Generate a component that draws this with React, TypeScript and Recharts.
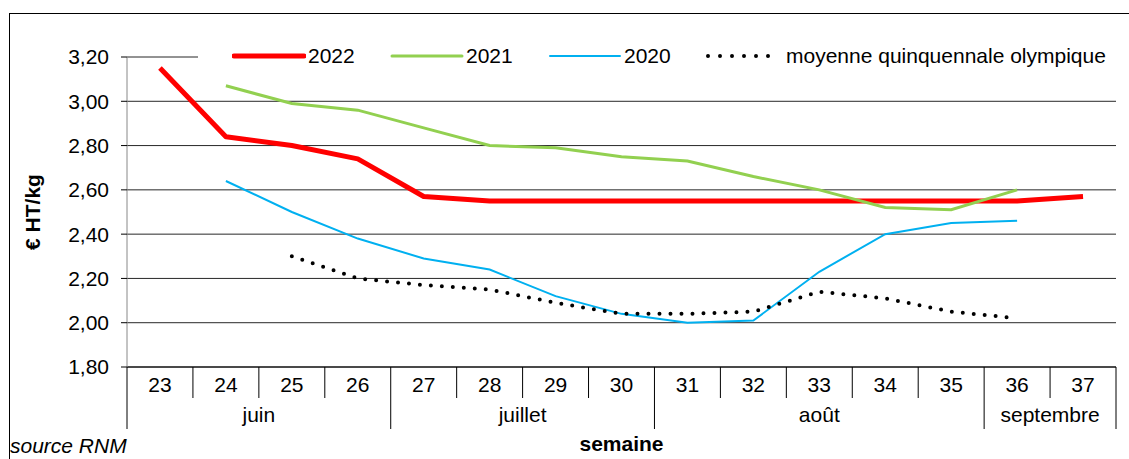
import React from 'react';
import { LineChart, Line, XAxis, YAxis, CartesianGrid, Legend } from 'recharts';

const weeks = ['23', '24', '25', '26', '27', '28', '29', '30', '31', '32', '33', '34', '35', '36', '37'];
const prix2022 = [3.15, 2.84, 2.80, 2.74, 2.57, 2.55, 2.55, 2.55, 2.55, 2.55, 2.55, 2.55, 2.55, 2.55, 2.57];
const prix2021 = [null, 3.07, 2.99, 2.96, 2.88, 2.80, 2.79, 2.75, 2.73, 2.66, 2.60, 2.52, 2.51, 2.60, null];
const prix2020 = [null, 2.64, 2.50, 2.38, 2.29, 2.24, 2.12, 2.04, 2.00, 2.01, 2.23, 2.40, 2.45, 2.46, null];
const moyenneOlympique = [null, null, 2.30, 2.20, 2.17, 2.15, 2.09, 2.04, 2.04, 2.05, 2.14, 2.11, 2.05, 2.02, null];

const months = ['juin', 'juillet', 'août', 'septembre'];
const monthWeeks = [4, 4, 5, 2];
const yTicks = [1.8, 2.0, 2.2, 2.4, 2.6, 2.8, 3.0, 3.2];

const data = weeks.map((w, i) => ({
  semaine: w,
  y2022: prix2022[i],
  y2021: prix2021[i],
  y2020: prix2020[i],
  moyenne: moyenneOlympique[i],
}));

const FONT = '"Liberation Sans", Arial, sans-serif';
const FS = 21;
const W = 1129;
const H = 459;
const PLOT_LEFT = 127;
const PLOT_RIGHT = 1116;
const BAND = (PLOT_RIGHT - PLOT_LEFT) / weeks.length;

// index of first week of each month
const monthStart: number[] = [];
monthWeeks.reduce((acc, n) => {
  monthStart.push(acc);
  return acc + n;
}, 0);

const WeekTick = (props: any) => {
  const { x, y, payload } = props;
  const i = weeks.indexOf(String(payload.value));
  const left = x - BAND / 2;
  const m = monthStart.indexOf(i);
  const isLast = i === weeks.length - 1;
  return (
    <g>
      <line x1={left} x2={left} y1={y} y2={m >= 0 ? y + 62 : y + 31} stroke="#000" />
      {isLast && <line x1={x + BAND / 2} x2={x + BAND / 2} y1={y} y2={y + 62} stroke="#000" />}
      <text x={x} y={y + 25} textAnchor="middle" fontSize={FS} fontFamily={FONT} fill="#000">
        {payload.value}
      </text>
      {m >= 0 && (
        <text
          x={left + (monthWeeks[m] * BAND) / 2}
          y={y + 55}
          textAnchor="middle"
          fontSize={FS}
          fontFamily={FONT}
          fill="#000"
        >
          {months[m]}
        </text>
      )}
    </g>
  );
};

const legendItems = [
  { label: '2022', color: '#FF0000', width: 5, dash: undefined },
  { label: '2021', color: '#92D050', width: 3, dash: undefined },
  { label: '2020', color: '#00B0F0', width: 2, dash: undefined },
  { label: 'moyenne quinquennale olympique', color: '#000', width: 4, dash: '0 12' },
];

const LegendContent = () => (
  <div style={{ display: 'flex', alignItems: 'center', height: '100%', paddingLeft: 34 }}>
    {legendItems.map((it, i) => (
      <div
        key={it.label}
        style={{ display: 'flex', alignItems: 'center', width: i < legendItems.length - 1 ? 158 : undefined }}
      >
        <svg width={74} height={20}>
          <line
            x1={2}
            x2={it.dash ? 74 : 72}
            y1={10}
            y2={10}
            stroke={it.color}
            strokeWidth={it.width}
            strokeLinecap="round"
            strokeDasharray={it.dash}
          />
        </svg>
        <span style={{ fontFamily: FONT, fontSize: FS, color: '#000', marginLeft: it.dash ? 6 : 2 }}>{it.label}</span>
      </div>
    ))}
  </div>
);

export default function App() {
  return (
    <div style={{ position: 'absolute', left: 0, top: 0, width: W, height: H, background: '#fff', overflow: 'hidden' }}>
      <div style={{ position: 'absolute', left: 9, top: 13, width: W, height: H, borderLeft: '1px solid #000', borderTop: '1px solid #000' }} />
      <LineChart width={W} height={H} data={data} margin={{ top: 57, right: W - PLOT_RIGHT, bottom: 26, left: 17 }}>
        <CartesianGrid vertical={false} stroke="#000" strokeOpacity={0.85} />
        <XAxis
          dataKey="semaine"
          height={66}
          interval={0}
          tickSize={0}
          tickMargin={0}
          padding={{ left: BAND / 2, right: BAND / 2 }}
          tick={<WeekTick />}
          axisLine={{ stroke: '#000' }}
          label={{
            content: (p: any) => (
              <text
                x={PLOT_LEFT + (PLOT_RIGHT - PLOT_LEFT) / 2}
                y={p.viewBox.y + 84}
                textAnchor="middle"
                fontSize={FS}
                fontWeight="bold"
                fontFamily={FONT}
                fill="#000"
              >
                semaine
              </text>
            ),
          }}
        />
        <YAxis
          width={110}
          domain={[1.8, 3.2]}
          ticks={yTicks}
          tickSize={6}
          tickMargin={12}
          tickLine={{ stroke: '#000' }}
          axisLine={{ stroke: '#888' }}
          tick={{ fontSize: FS, fontFamily: FONT, fill: '#000' }}
          tickFormatter={(v: number) => v.toFixed(2).replace('.', ',')}
          label={{
            content: (p: any) => {
              const cx = p.viewBox.x + 15;
              const cy = p.viewBox.y + p.viewBox.height / 2;
              return (
                <text
                  x={cx}
                  y={cy}
                  transform={`rotate(-90 ${cx} ${cy})`}
                  textAnchor="middle"
                  dominantBaseline="central"
                  fontSize={FS}
                  fontWeight="bold"
                  fontFamily={FONT}
                  fill="#000"
                >
                  € HT/kg
                </text>
              );
            },
          }}
        />
        <Legend
          verticalAlign="middle"
          layout="horizontal"
          wrapperStyle={{ top: 37, left: 198, width: 918, height: 38, background: '#fff' }}
          content={<LegendContent />}
        />
        <Line type="linear" dataKey="y2022" stroke="#FF0000" strokeWidth={5} strokeLinejoin="round" dot={false} activeDot={false} isAnimationActive={false} />
        <Line type="linear" dataKey="y2021" stroke="#92D050" strokeWidth={3} dot={false} activeDot={false} isAnimationActive={false} />
        <Line type="linear" dataKey="y2020" stroke="#00B0F0" strokeWidth={2} dot={false} activeDot={false} isAnimationActive={false} />
        <Line
          type="linear"
          dataKey="moyenne"
          stroke="#000"
          strokeWidth={4}
          strokeDasharray="0 11"
          strokeLinecap="round"
          dot={false}
          activeDot={false}
          isAnimationActive={false}
        />
      </LineChart>
      <div style={{ position: 'absolute', left: 10, top: 434, fontFamily: FONT, fontSize: FS, fontStyle: 'italic', color: '#000' }}>
        source RNM
      </div>
    </div>
  );
}
